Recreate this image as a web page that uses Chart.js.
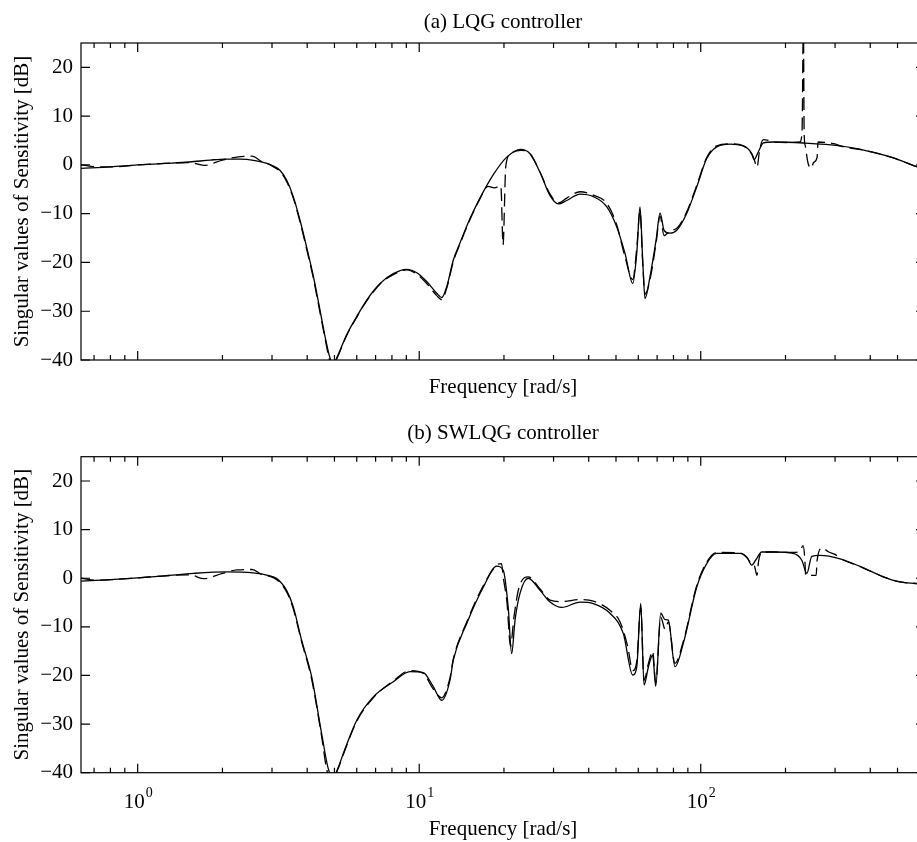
<!DOCTYPE html>
<html>
<head>
<meta charset="utf-8">
<script src="https://cdn.jsdelivr.net/npm/chart.js@4"></script>
<style>
  html, body { margin: 0; padding: 0; background: #fff; overflow: hidden; }
  #wrap { position: relative; width: 917px; height: 842px; overflow: hidden; }
  canvas { position: absolute; left: 0; }
</style>
</head>
<body>
<div id="wrap">
  <canvas id="lqg" width="925" height="400" style="top:0"></canvas>
  <canvas id="swlqg" width="925" height="442" style="top:400px"></canvas>
</div>
<script>
// (a) LQG controller, solid and dashed singular values [dB]
const lqgFreq = [0.63, 0.8, 1.0, 1.25, 1.53, 1.81, 2.04, 2.31, 2.61, 2.88, 3.02, 3.2, 3.38, 3.57, 3.77, 3.98, 4.21, 4.44, 4.63, 4.82, 4.94, 5.09, 5.53, 6.0, 6.51, 7.26, 8.09, 9.03, 9.8, 10.63, 11.54, 12.02, 12.52, 13.22, 13.96, 15.15, 16.44, 18.33, 20.46, 22.94, 24.75, 26.86, 29.16, 31.2, 33.42, 37.26, 41.54, 46.4, 50.3, 53.8, 57.34, 59.27, 60.85, 62.2, 63.4, 66.04, 69.4, 71.7, 74.1, 77.8, 82.2, 89.2, 96.8, 105, 114, 127.1, 141.7, 151.8, 154.7, 160.2, 166.9, 181.1, 231.5, 312.6, 388.9, 470.6, 586.7, 626];
const lqgSolid = [-0.7, -0.4, 0.0, 0.3, 0.6, 1.0, 1.2, 1.2, 0.9, 0.3, -0.2, -1.1, -3.1, -6.5, -11.3, -16.8, -22.9, -29.7, -35.2, -39.6, -41, -39.6, -34.8, -31.1, -27.7, -24.3, -22.3, -21.4, -22.1, -23.9, -26.3, -27.2, -25, -19.5, -16, -11, -6.8, -2, 1.6, 3.2, 2.3, -1.5, -6.3, -8.0, -7.3, -6.0, -6.5, -8.6, -12.7, -18.1, -24.3, -18, -8.6, -19.5, -27.4, -22.9, -15.4, -9.9, -13.4, -14, -13.4, -9.9, -4.5, 1.3, 3.7, 4.25, 3.9, 2.3, 1.1, 2.7, 4.5, 4.7, 4.5, 3.9, 2.9, 1.65, -0.4, -1.0];
const lqgDashFreq = [0.63, 0.72, 0.8, 1.0, 1.25, 1.53, 1.72, 2.0, 2.25, 2.55, 2.75, 2.88, 3.02, 3.2, 3.38, 3.57, 3.77, 3.98, 4.21, 4.44, 4.63, 4.8, 4.9, 5.09, 5.53, 6.0, 6.51, 7.26, 8.09, 9.03, 9.8, 10.63, 11.54, 12.02, 12.52, 13.22, 13.96, 15.15, 16.44, 17.55, 18.5, 19.5, 19.85, 20.3, 21.2, 22.94, 24.75, 26.86, 29.16, 31.2, 33.42, 37.26, 41.54, 46.4, 50.3, 53.8, 57.34, 59.27, 60.85, 62.2, 63.4, 66.04, 69.4, 71.7, 74.1, 77.8, 82.2, 89.2, 96.8, 105, 114, 127.1, 141.7, 151.8, 155, 158.4, 162, 166.9, 175, 181.1, 210, 225, 229, 231.5, 233, 235, 240, 246, 252, 259, 261, 280, 300, 312.6, 388.9, 470.6, 586.7, 626];
const lqgDash = [0.0, -0.4, -0.4, 0.0, 0.3, 0.5, -0.1, 1.0, 1.6, 1.8, 0.7, 0.3, -0.3, -1.3, -3.4, -6.8, -11.6, -17.2, -23.3, -30.2, -35.6, -40.0, -41.5, -39.8, -34.9, -31.2, -27.9, -24.4, -22.5, -21.5, -22.4, -24.3, -26.8, -27.6, -25.3, -19.8, -16.2, -11.2, -6.9, -4.4, -4.7, -4.3, -16.4, -0.3, 2.4, 3.0, 2.3, -1.5, -6.0, -7.8, -6.8, -5.5, -6.2, -7.9, -12.3, -18.8, -23.5, -17, -9.5, -20, -26.5, -23.5, -16, -10.5, -14.5, -13.5, -13.0, -9.6, -4.2, 1.5, 3.9, 4.3, 3.9, 2.2, 1.0, -0.5, 3.2, 5.2, 5.0, 4.7, 4.6, 4.7, 6.8, 30, 6.5, 4.0, 0.6, -0.7, 0.5, 1.6, 4.7, 4.6, 4.3, 3.9, 2.9, 1.65, -0.4, -1.0];

// (b) SWLQG controller
const swFreq = [0.63, 0.8, 1.0, 1.25, 1.58, 2.07, 2.57, 2.9, 3.12, 3.38, 3.57, 3.82, 4.15, 4.5, 4.75, 4.94, 5.15, 5.38, 6.0, 6.87, 8.09, 9.27, 10.34, 11.22, 12.02, 12.86, 13.22, 14.75, 16.9, 18.85, 19.9, 20.7, 21.3, 21.9, 22.8, 24.4, 26.86, 29.16, 32.1, 37.26, 41.54, 47.6, 53.1, 57.34, 59.27, 61.22, 62.9, 65.2, 67.5, 69.2, 72.1, 74.7, 76.7, 81.0, 86.7, 96.8, 105, 114, 137.9, 146, 151.8, 157, 164.7, 181.1, 213.3, 228.5, 238.1, 248, 265.4, 312.6, 372.6, 445.3, 510.5, 586.7, 626];
const swSolid = [-0.6, -0.3, 0.07, 0.5, 1.0, 1.3, 1.1, 0.6, -0.05, -2.5, -5.9, -12.7, -20.3, -31.9, -39.1, -41, -39, -36, -29.2, -24.4, -21.3, -19.2, -19.4, -22.3, -25.1, -21, -16.8, -9.3, -1.8, 2.5, 1.6, -5.9, -15.5, -8.6, -3.1, 0.0, -2.5, -4.9, -6.0, -4.9, -5.2, -7.2, -11.4, -19.9, -18.2, -5.2, -22, -18.2, -15.8, -22.2, -7.2, -8.5, -8.6, -18.2, -13.4, -1.8, 3.0, 5.1, 5.1, 4.3, 2.7, 3.8, 5.4, 5.4, 5.1, 3.7, 1.0, 4.5, 4.7, 4.0, 2.3, 0.3, -0.75, -1.1, -1.3];
const swDashFreq = [0.63, 0.72, 0.8, 1.0, 1.25, 1.53, 1.72, 2.0, 2.25, 2.55, 2.75, 2.9, 3.12, 3.38, 3.57, 3.82, 4.15, 4.5, 4.7, 4.9, 5.15, 5.38, 6.0, 6.87, 8.09, 9.27, 10.34, 11.22, 12.02, 12.86, 13.22, 14.75, 16.9, 18.85, 19.6, 19.9, 20.5, 21.1, 21.7, 22.6, 24.4, 26.86, 29.16, 32.1, 37.26, 41.54, 47.6, 51.7, 55, 57.34, 59.27, 61.22, 62.9, 65.2, 67.5, 69.2, 72.1, 74.7, 76.7, 81.0, 86.7, 96.8, 105, 114, 137.9, 146, 151.8, 155, 158.4, 160.5, 164.7, 181.1, 213.3, 225, 231, 234, 236, 246, 257, 259, 270, 285, 300, 312.6, 372.6, 445.3, 510.5, 586.7, 626];
const swDash = [0.0, -0.4, -0.3, 0.07, 0.5, 0.7, -0.1, 1.0, 1.7, 1.8, 0.8, 0.5, -0.3, -2.8, -6.3, -13, -20.8, -32.5, -39.5, -41.5, -39.2, -36.2, -29.4, -24.6, -21.1, -19.0, -19.6, -22.8, -24.6, -20.5, -16.6, -9.0, -1.5, 2.7, 3.0, 0.1, -5, -14, -8, -2, 0.3, -2.2, -4.5, -4.8, -4.4, -4.7, -6.6, -9.0, -14, -19, -17, -6, -21, -17.5, -15, -21.5, -8.0, -10.5, -9, -17.5, -13, -1.5, 3.3, 5.3, 5.2, 4.2, 2.9, 2.6, 0.6, 3.5, 5.4, 5.4, 5.3, 5.6, 6.7, 4.4, 0.6, 0.6, 0.6, 3.7, 6.2, 5.4, 4.9, 4.1, 2.3, 0.3, -0.75, -1.1, -1.3];

const yTicks = [-40, -30, -20, -10, 0, 10, 20];
const decades = [1, 10, 100];
const decadeExp = ["0", "1", "2"];

const serif = "'Liberation Serif', 'Times New Roman', serif";
Chart.defaults.font.family = serif;
Chart.defaults.font.size = 21;
Chart.defaults.color = "#000";

const pts = (xs, ys) => xs.map((x, i) => ({ x: x, y: ys[i] }));

// box round the axes, with MATLAB-style inward ticks and 10^n labels
const frameTicks = {
  id: "frameTicks",
  afterDraw(chart, args, opts) {
    const { ctx, chartArea: a, scales: { x, y } } = chart;
    ctx.save();
    ctx.strokeStyle = "#000";
    ctx.lineWidth = 1.2;
    ctx.strokeRect(a.left, a.top, a.right - a.left, a.bottom - a.top);
    ctx.beginPath();
    for (let e = -1; e <= 2; e++) {
      for (let m = 1; m <= 9; m++) {
        const v = m * Math.pow(10, e);
        if (v < x.min || v > x.max) continue;
        const px = x.getPixelForValue(v);
        const len = m === 1 ? 9 : 5;
        ctx.moveTo(px, a.bottom); ctx.lineTo(px, a.bottom - len);
        ctx.moveTo(px, a.top); ctx.lineTo(px, a.top + len);
      }
    }
    yTicks.forEach(v => {
      const py = y.getPixelForValue(v);
      ctx.moveTo(a.left, py); ctx.lineTo(a.left + 9, py);
      ctx.moveTo(a.right, py); ctx.lineTo(a.right - 9, py);
    });
    ctx.stroke();

    if (opts.labels) {
      ctx.fillStyle = "#000";
      ctx.textBaseline = "alphabetic";
      ctx.textAlign = "left";
      decades.forEach((v, i) => {
        const px = x.getPixelForValue(v);
        ctx.font = "21px " + serif;
        const wb = ctx.measureText("10").width;
        ctx.font = "14px " + serif;
        const we = ctx.measureText(decadeExp[i]).width;
        const x0 = px - (wb + we) / 2;
        ctx.font = "21px " + serif;
        ctx.fillText("10", x0, a.bottom + 35);
        ctx.font = "14px " + serif;
        ctx.fillText(decadeExp[i], x0 + wb + 1, a.bottom + 24);
      });
    }
    ctx.restore();
  }
};

function makeChart(id, title, titlePad, solid, dashed, showX, xHeight) {
  return new Chart(document.getElementById(id), {
    type: "line",
    data: {
      datasets: [
        { data: solid, borderColor: "#000", borderWidth: 1.3, pointRadius: 0, cubicInterpolationMode: "monotone" },
        { data: dashed, borderColor: "#000", borderWidth: 1.3, pointRadius: 0, borderDash: [13, 6], cubicInterpolationMode: "monotone" }
      ]
    },
    options: {
      responsive: false,
      animation: false,
      layout: { padding: 0 },
      plugins: {
        legend: { display: false },
        tooltip: { enabled: false },
        frameTicks: { labels: showX },
        title: {
          display: true,
          text: title,
          fullSize: false,
          color: "#000",
          font: { size: 21, weight: "normal", family: serif },
          padding: titlePad
        }
      },
      scales: {
        x: {
          type: "logarithmic",
          bounds: "data",
          min: 0.629,
          max: 626,
          grid: { display: false, drawTicks: false },
          border: { display: false },
          ticks: { display: false },
          title: { display: true, text: "Frequency [rad/s]", padding: { top: 0, bottom: 0.4 } },
          afterFit: s => { s.height = xHeight; }
        },
        y: {
          min: -40,
          max: 25,
          grid: { display: false, drawTicks: false },
          border: { display: false },
          afterBuildTicks: s => { s.ticks = yTicks.map(v => ({ value: v })); },
          ticks: {
            padding: 8,
            callback: v => (v < 0 ? "\u2212" + Math.abs(v) : String(v))
          },
          title: { display: true, text: "Singular values of Sensitivity [dB]", padding: { top: 10, bottom: 0 } },
          afterFit: s => { s.width = 81; }
        }
      }
    },
    plugins: [frameTicks]
  });
}

makeChart("lqg", "(a) LQG controller", { top: 9.4, bottom: 8.4 },
  pts(lqgFreq, lqgSolid), pts(lqgDashFreq, lqgDash), false, 40);
makeChart("swlqg", "(b) SWLQG controller", { top: 20.9, bottom: 10.6 },
  pts(swFreq, swSolid), pts(swDashFreq, swDash), true, 69.3);
</script>
</body>
</html>
